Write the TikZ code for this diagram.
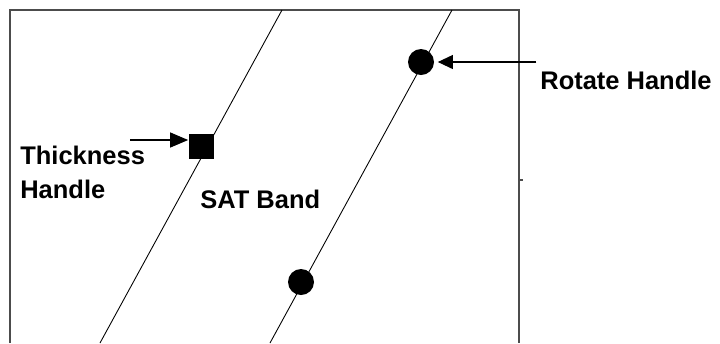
\documentclass[tikz,border=0pt]{standalone}
\usepackage{fontspec}
\setmainfont{Liberation Sans}
\usetikzlibrary{arrows.meta, positioning}

\begin{document}
\begin{tikzpicture}[
  x=0.02cm, y=-0.02cm,
  font=\fontsize{14.5}{19.3}\selectfont\bfseries,
  etichetta/.style={inner sep=0pt, align=left},
  quadrato/.style={fill=black, minimum size=0.5cm, inner sep=0pt},
  cerchio/.style={circle, fill=black, minimum size=0.52cm, inner sep=0pt},
  banda/.style={draw=black, line width=0.5pt},
  freccia/.style={draw=black, line width=0.7pt, -{Triangle[length=0.36cm,width=0.3cm]}},
  frecciapiccola/.style={draw=black, line width=0.6pt, -{Triangle[length=0.3cm,width=0.28cm]}}
]
\useasboundingbox (0,0) rectangle (720,343);

% cornice
\draw[black!70, line width=1.1pt] (10,343) |- (519,10) -- (519,343);
\draw[black!70, line width=0.6pt] (519,180) -- (523,180);

% banda
\draw[banda] (282,10) -- (100,343);
\draw[banda] (452,10) -- (270,343);

% maniglie
\node[quadrato] (spessore) at (201,146) {};
\node[cerchio] (ruota) at (421,62) {};
\node[cerchio] (ruota2) at (301,282) {};

% etichette
\node[etichetta, anchor=north west] (tspessore) at (20,146) {Thickness\\Handle};
\node[etichetta, anchor=base west] (tbanda) at (200,208) {SAT Band};
\node[etichetta, anchor=base west] (truota) at (540,89) {Rotate Handle};

\coordinate (inizio) at (130,140);
\draw[freccia] (inizio) -- (inizio -| spessore.west);
\draw[frecciapiccola, shorten >=2pt] ([xshift=-2]truota.west |- ruota) -- (ruota.east);

\end{tikzpicture}
\end{document}
